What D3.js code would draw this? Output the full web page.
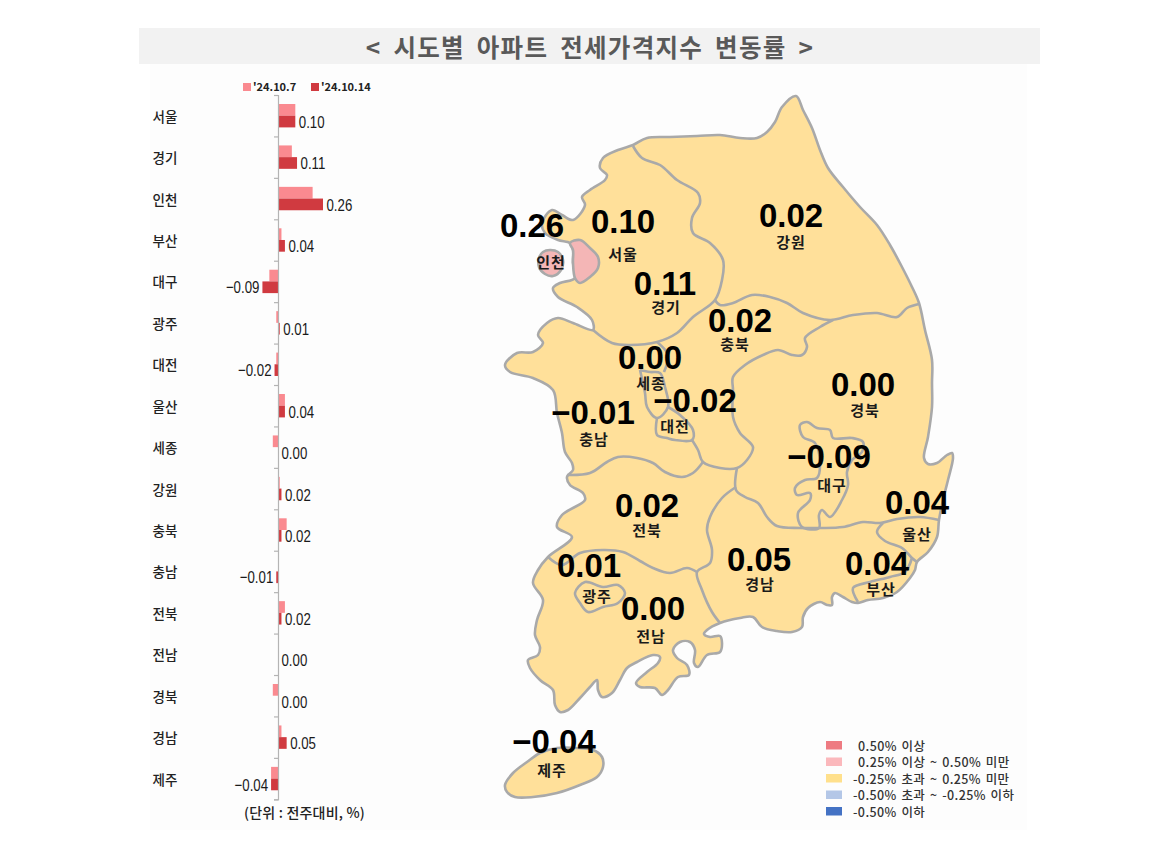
<!DOCTYPE html>
<html>
<head>
<meta charset="utf-8">
<script src="https://cdn.jsdelivr.net/npm/d3@7"></script>
<style>
  html, body { margin: 0; padding: 0; background: #fff; }
  svg { display: block; }
  text { font-family: "Noto Sans CJK KR", "Noto Sans", sans-serif; }
  .bar-value { font-family: "Liberation Sans", sans-serif; font-size: 17px; fill: #1a1a1a; }
  .map-value { font-family: "Liberation Sans", sans-serif; font-size: 33px; font-weight: 700; fill: #000; text-anchor: middle; dominant-baseline: central; }
  .map-name { font-size: 15px; font-weight: 700; fill: #1a1a1a; text-anchor: middle; dominant-baseline: central; letter-spacing: 1px; }
</style>
</head>
<body>
<div id="chart"></div>
<script>
// ---- values ----
var regions = ["서울", "경기", "인천", "부산", "대구", "광주", "대전", "울산", "세종",
               "강원", "충북", "충남", "전북", "전남", "경북", "경남", "제주"];
var dates = ["'24.10.7", "'24.10.14"];
var oct7 = [0.10, 0.08, 0.20, 0.02, -0.05, -0.01, -0.01, 0.04, -0.03,
            0.01, 0.05, 0.00, 0.04, 0.00, -0.03, 0.02, -0.04];
var oct14 = [0.10, 0.11, 0.26, 0.04, -0.09, 0.01, -0.02, 0.04, 0.00,
             0.02, 0.02, -0.01, 0.02, 0.00, 0.00, 0.05, -0.04];
var legendLabels = ["0.50% 이상", "0.25% 이상 ~ 0.50% 미만", "-0.25% 초과 ~ 0.25% 미만",
                    "-0.50% 초과 ~ -0.25% 이하", "-0.50% 이하"];
var legendColors = ["#ee7b82", "#fbb8bc", "#ffe08c", "#b4c7e7", "#4472c4"];

// ---- map geometry, in map units ----
var mainland = [[796,96],[803,110],[812,128],[820,150],[828,168],[843,187],[860,207],[877,225],[890,245],[902,267],[912,287],[919,303],
  [925,330],[932,360],[932,383],[932,407],[928,437],[924,458],[928,464],[937,463],[947,455],[952,453],[953,458],[948,480],[943,500],
  [939,520],[937,537],[928,552],[917,562],[915,570],[910,578],[897,592],[883,598],[868,600],[858,603],[852,602],[843,597],[835,593],
  [832,597],[832,605],[827,605],[820,602],[808,608],[803,617],[802,627],[792,632],[777,631],[762,627],[753,617],[740,618],[720,623],
  [707,630],[704,634],[710,637],[720,636],[722,643],[720,652],[707,655],[698,667],[694,663],[695,650],[690,642],[680,642],[673,650],
  [677,658],[687,665],[689,675],[678,677],[668,690],[662,695],[655,688],[640,687],[636,683],[647,672],[658,663],[660,657],[653,655],
  [637,662],[627,668],[620,680],[612,693],[602,697],[598,690],[597,680],[590,687],[580,698],[568,710],[560,712],[555,705],[553,690],
  [540,680],[530,668],[528,660],[538,655],[540,647],[535,635],[537,620],[543,600],[533,583],[538,570],[548,557],[572,537],[557,527],
  [562,515],[585,500],[583,493],[570,485],[567,477],[573,470],[572,463],[565,452],[562,433],[557,413],[553,390],[533,378],[510,372],
  [505,365],[517,353],[533,352],[543,343],[538,335],[547,323],[558,318],[573,323],[593,330],[592,320],[577,307],[558,297],[553,288],
  [560,283],[575,278],[573,263],[573,250],[570,243],[558,240],[545,233],[542,223],[552,210],[562,215],[573,220],[585,205],[582,197],
  [590,190],[605,180],[607,175],[600,168],[603,158],[618,150],[633,145],[647,138],[670,137],[697,136],[720,135],[740,138],[757,138],
  [767,132],[775,122],[782,107]];
var jeju = [[505,785],[513,773],[527,762],[540,753],[557,748],[577,748],[593,750],[602,757],[603,767],[597,777],[580,785],[557,793],
  [533,797],[515,797],[507,792]];
var incheonCoast = [[570,243],[580,240],[590,248],[598,257],[598,268],[590,277],[580,283],[575,278],[573,263],[573,250]];
var incheonIsland = [[550,250],[558,252],[563,260],[561,270],[553,276],[545,274],[539,267],[539,258],[543,252]];
var gwangju = [[575,593],[585,582],[603,587],[618,585],[625,593],[618,603],[603,607],[588,612],[580,603]];
var daegu = [[800,425],[807,422],[817,428],[830,430],[833,438],[852,438],[863,442],[862,452],[852,460],[847,472],[848,485],[842,500],
  [830,517],[822,510],[819,515],[819,528],[802,527],[798,513],[810,500],[810,493],[797,495],[795,488],[805,480],[817,478],[820,463],
  [815,443],[803,437]];
var borders = [
  [[633,146],[642,158],[660,165],[677,180],[698,193],[700,203],[692,218],[693,233],[710,243],[723,260],[722,280],[715,300],[693,317],
   [677,333],[657,342],[630,345],[612,343],[593,330]],
  [[715,300],[720,305],[733,303],[752,295],[770,297],[787,303],[803,313],[830,320],[853,315],[877,313],[897,317],[907,308],[919,304]],
  [[833,320],[820,327],[805,338],[807,347],[802,355],[792,355],[778,350],[763,355],[745,365],[733,377],[733,390],[733,417],[740,433],
   [753,447],[747,460],[737,468],[720,468],[703,462],[698,450],[692,440]],
  [[567,475],[590,473],[607,462],[618,457],[637,458],[653,463],[665,472],[682,477],[693,473],[703,462]],
  [[737,468],[736,490],[745,497],[758,503],[767,517],[777,526],[800,528],[820,528],[843,527],[863,522],[880,523],[897,519],[920,517],[939,520]],
  [[736,487],[722,498],[710,517],[707,530],[712,550],[710,563],[697,572],[702,590],[712,612],[720,623]],
  [[548,557],[562,565],[580,553],[603,550],[623,552],[640,561],[653,568],[670,573],[687,568],[697,572]],
  [[657,342],[668,355],[664,372]],
  [[640,370],[650,372],[660,373],[665,387],[668,407],[657,418],[647,407],[645,393],[640,370]],
  [[657,418],[657,435],[667,438],[675,440],[692,440],[693,430],[680,415],[668,407]],
  [[883,523],[877,532],[885,541],[902,548],[912,558],[917,562]],
  [[912,558],[905,572],[890,577],[870,582],[853,588],[858,602]]
];
// where each region's value and name sit, same order as regions
var valueAnchors = [[623,221],[665,283],[532,225],[877,563],[829,456],[589,565],[695,400],[917,502],[650,357],
                    [791,215],[740,320],[593,412],[647,505],[653,608],[863,384],[759,559],[554,741]];
var nameAnchors = [[623,253],[666,306],[551,261],[881,588],[832,484],[597,595],[675,425],[917,533],[651,382],
                   [791,241],[735,343],[594,438],[647,529],[651,635],[865,409],[760,583],[552,769]];

var width = 1175, height = 848;

var svg = d3.select("#chart").append("svg")
    .attr("width", width)
    .attr("height", height);

// faint backing of the panel
svg.append("rect")
    .attr("x", 150).attr("y", 64).attr("width", 877).attr("height", 766)
    .attr("fill", "#fdfdfd");

// title band
svg.append("rect")
    .attr("x", 139).attr("y", 28).attr("width", 901).attr("height", 36)
    .attr("fill", "#f2f2f2");
svg.append("text")
    .attr("x", 590).attr("y", 46)
    .attr("text-anchor", "middle")
    .attr("dominant-baseline", "central")
    .style("font-size", "24.5px")
    .style("font-weight", 700)
    .style("letter-spacing", "1.3px")
    .style("word-spacing", "5px")
    .attr("fill", "#595959")
    .text("< 시도별 아파트 전세가격지수 변동률 >");

// ---- bar chart ----
var x = d3.scaleLinear().domain([0, 0.26]).range([278, 323]);
var y = d3.scaleBand().domain(regions).range([95, 799.3]);
var yInner = d3.scaleBand().domain(dates).range([9, 32.4]);
var seriesColor = d3.scaleOrdinal().domain(dates).range(["#fa8a90", "#d03a40"]);
var series = [oct7, oct14];
var fmt = d3.format(".2f");

var bars = svg.append("g");
dates.forEach(function(date, s) {
  bars.selectAll(".bar-" + s)
      .data(series[s])
    .enter().append("rect")
      .attr("class", "bar-" + s)
      .attr("x", function(d) { return Math.min(x(d), x(0)); })
      .attr("y", function(d, i) { return y(regions[i]) + yInner(date); })
      .attr("width", function(d) { return Math.abs(x(d) - x(0)); })
      .attr("height", yInner.bandwidth())
      .attr("fill", seriesColor(date));
});

// axis with ticks on the band edges
var edge = d3.scaleLinear().domain([0, regions.length]).range(y.range());
var axis = svg.append("g")
    .attr("transform", "translate(" + x(0) + ",0)")
    .call(d3.axisLeft(edge).ticks(regions.length).tickSize(4).tickFormat(""));
axis.selectAll("path, line").attr("stroke", "#b4b4b4").attr("stroke-width", 1.2);

svg.append("g").selectAll("text")
    .data(regions)
  .enter().append("text")
    .attr("x", 165)
    .attr("y", function(d) { return y(d) + y.bandwidth() / 2; })
    .attr("text-anchor", "middle")
    .attr("dominant-baseline", "central")
    .style("font-size", "13.5px")
    .style("font-weight", 500)
    .attr("fill", "#222")
    .text(function(d) { return d; });

// condensed look of the value labels: squeeze them horizontally
svg.append("g").selectAll("text")
    .data(oct14)
  .enter().append("text")
    .attr("class", "bar-value")
    .attr("transform", function(d, i) {
      var tx = d < 0 ? x(d) - 3 : x(d) + 3.5;
      var ty = y(regions[i]) + yInner(dates[1]) + yInner.bandwidth() / 2;
      return "translate(" + tx + "," + ty + ") scale(0.78,1)";
    })
    .attr("text-anchor", function(d) { return d < 0 ? "end" : "start"; })
    .attr("dominant-baseline", "central")
    .text(function(d) { return fmt(d); });

// series legend
var seriesLegendX = d3.scaleOrdinal().domain(dates).range([243, 311]);
var seriesLegend = svg.append("g").selectAll("g")
    .data(dates)
  .enter().append("g")
    .attr("transform", function(d) { return "translate(" + seriesLegendX(d) + ",83)"; });
seriesLegend.append("rect")
    .attr("width", 8).attr("height", 8)
    .attr("fill", function(d) { return seriesColor(d); });
seriesLegend.append("text")
    .attr("x", 10).attr("y", 3)
    .attr("dominant-baseline", "central")
    .style("font-size", "11px")
    .style("font-weight", 700)
    .attr("fill", "#222")
    .text(function(d) { return d; });

svg.append("text")
    .attr("x", 244).attr("y", 812)
    .attr("dominant-baseline", "central")
    .style("font-size", "14px")
    .style("font-weight", 500)
    .style("letter-spacing", "0.2px")
    .attr("fill", "#222")
    .text("(단위 : 전주대비, %)");

// ---- map ----
var mapX = d3.scaleLinear().domain([500, 960]).range([500, 960]);
var mapY = d3.scaleLinear().domain([90, 800]).range([90, 800]);
var mapFill = "#ffe09a", mapPink = "#f4b6b6", mapStroke = "#a9a9a9";

var closedLine = d3.line()
    .x(function(d) { return mapX(d[0]); })
    .y(function(d) { return mapY(d[1]); })
    .curve(d3.curveCatmullRomClosed.alpha(0.5));
var openLine = d3.line()
    .x(function(d) { return mapX(d[0]); })
    .y(function(d) { return mapY(d[1]); })
    .curve(d3.curveCatmullRom.alpha(0.5));

var map = svg.append("g");

[mainland, jeju].forEach(function(shape) {
  map.append("path").attr("d", closedLine(shape))
      .attr("fill", mapFill).attr("stroke", mapStroke).attr("stroke-width", 2.6).attr("stroke-linejoin", "round");
});
[incheonCoast, incheonIsland].forEach(function(shape) {
  map.append("path").attr("d", closedLine(shape))
      .attr("fill", mapPink).attr("stroke", mapStroke).attr("stroke-width", 2.6);
});
[gwangju, daegu].forEach(function(shape) {
  map.append("path").attr("d", closedLine(shape))
      .attr("fill", mapFill).attr("stroke", mapStroke).attr("stroke-width", 2.6);
});
map.selectAll(".border")
    .data(borders)
  .enter().append("path")
    .attr("class", "border")
    .attr("d", openLine)
    .attr("fill", "none")
    .attr("stroke", mapStroke)
    .attr("stroke-width", 2.6);

map.selectAll(".map-value")
    .data(oct14)
  .enter().append("text")
    .attr("class", "map-value")
    .attr("x", function(d, i) { return mapX(valueAnchors[i][0]); })
    .attr("y", function(d, i) { return mapY(valueAnchors[i][1]); })
    .text(function(d) { return fmt(d); });

map.selectAll(".map-name")
    .data(regions)
  .enter().append("text")
    .attr("class", "map-name")
    .attr("x", function(d, i) { return mapX(nameAnchors[i][0]); })
    .attr("y", function(d, i) { return mapY(nameAnchors[i][1]); })
    .text(function(d) { return d; });

// ---- colour legend ----
var legendY = d3.scalePoint().domain(legendLabels).range([745, 811]);
var legendTextX = d3.scaleOrdinal().domain(legendLabels).range([858, 858, 853, 853, 853]);
var colorLegend = svg.append("g").selectAll("g")
    .data(legendLabels)
  .enter().append("g");
colorLegend.append("rect")
    .attr("x", 826)
    .attr("y", function(d) { return legendY(d) - 4; })
    .attr("width", 16).attr("height", 8.5)
    .attr("fill", function(d, i) { return legendColors[i]; });
colorLegend.append("text")
    .attr("x", function(d) { return legendTextX(d); })
    .attr("y", function(d) { return legendY(d); })
    .attr("dominant-baseline", "central")
    .style("font-size", "12.5px")
    .style("font-weight", 500)
    .style("letter-spacing", "0.4px")
    .style("word-spacing", "1.5px")
    .attr("fill", "#333")
    .text(function(d) { return d; });
</script>
</body>
</html>
